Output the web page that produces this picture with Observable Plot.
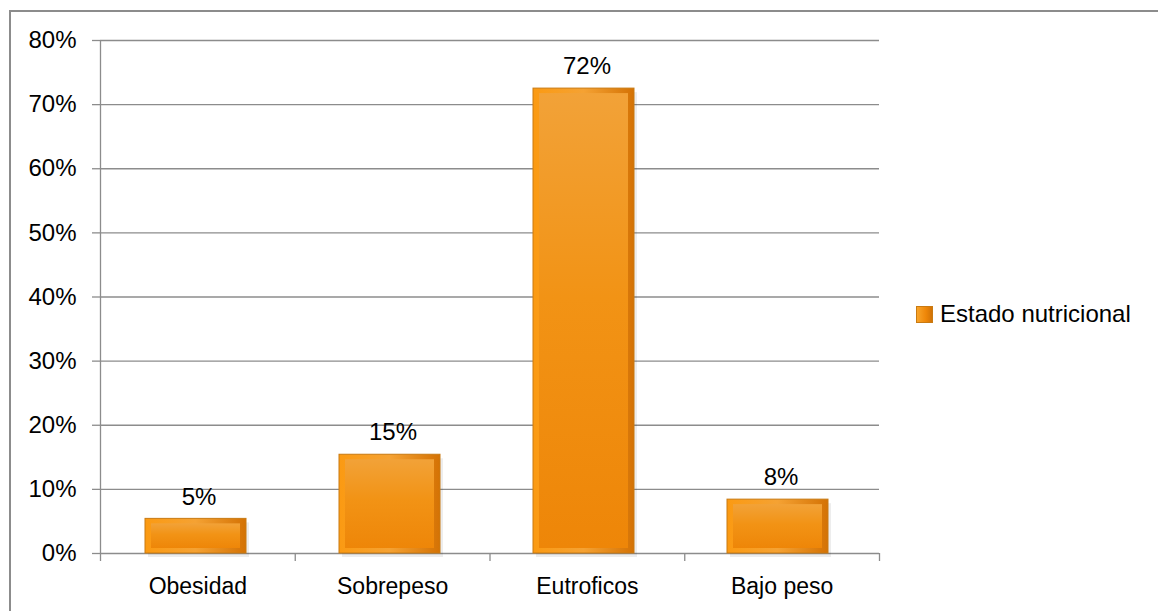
<!DOCTYPE html>
<html>
<head>
<meta charset="utf-8">
<script src="https://cdn.jsdelivr.net/npm/d3@7"></script>
<script src="https://cdn.jsdelivr.net/npm/@observablehq/plot@0.6"></script>
<style>
  html, body { margin: 0; padding: 0; background: #fff; }
  #wrap { position: relative; width: 1158px; height: 611px; overflow: hidden; }
  #frame { position: absolute; left: 9px; top: 10px; width: 1160px; height: 620px;
           border-left: 2px solid #8c8c8c; border-top: 2px solid #8c8c8c; box-sizing: border-box; }
  #chart { position: absolute; left: 0; top: 0; width: 1158px; height: 611px; }
  #chart svg { position: absolute; left: 0; top: 0; }
  #legend { position: absolute; left: 916px; top: 298px; font-family: "Liberation Sans", Arial, sans-serif;
            font-size: 24px; color: #000; display: flex; align-items: center; line-height: 32px; }
  #legend .sw { width: 17px; height: 17px; margin-right: 7px; box-sizing: border-box;
                background: linear-gradient(90deg, #f9a52a, #ee8608 60%, #d17306); border: 1px solid #c97a12; }
</style>
</head>
<body>
<div id="wrap">
  <div id="frame"></div>
  <div id="chart"></div>
  <div id="legend"><div class="sw"></div><span>Estado nutricional</span></div>
</div>
<script>
const categories = ["Obesidad", "Sobrepeso", "Eutroficos", "Bajo peso"];
const values = [0.054, 0.154, 0.725, 0.084];
const labels = ["5%", "15%", "72%", "8%"];
const yTicks = [0, 0.1, 0.2, 0.3, 0.4, 0.5, 0.6, 0.7, 0.8];
const seriesName = "Estado nutricional";

const data = categories.map((c, i) => ({category: c, value: values[i], label: labels[i], series: seriesName}));

const font = "'Liberation Sans', Arial, sans-serif";
const common = {
  width: 1158, height: 611,
  marginLeft: 100, marginRight: 279, marginTop: 40, marginBottom: 58,
  style: {fontFamily: font, fontSize: "24px", color: "#000", background: "transparent"}
};

// Axis layer: gridlines, y axis, baseline, category ticks and labels
const axisPlot = Plot.plot({
  ...common,
  x: {domain: [0, categories.length], axis: null},
  y: {domain: [0, 0.8], axis: null},
  marks: [
    Plot.ruleY(yTicks, {stroke: "#8c8c8c", strokeWidth: 1.3}),
    Plot.axisY({ticks: yTicks, tickFormat: d3.format(".0%"), tickSize: 8, tickPadding: 16,
                stroke: "#8c8c8c", strokeWidth: 1.3, strokeOpacity: 1, fontSize: 24, label: null}),
    Plot.ruleX(d3.range(categories.length + 1), {y1: 0, y2: 0, stroke: "#8c8c8c", strokeWidth: 1.3, insetBottom: -8}),
    Plot.ruleX([0], {y1: 0, y2: 0.8, stroke: "#8c8c8c", strokeWidth: 1.3}),
    Plot.text(categories, {x: (d, i) => i + 0.5, y: 0, text: d => d, dy: 33, fontSize: 23, fill: "#000"})
  ]
});

// Bar layer
const barPlot = Plot.plot({
  ...common,
  x: {domain: categories, paddingInner: 0.48, paddingOuter: 0.24, axis: null},
  y: {domain: [0, 0.8], axis: null},
  marks: [
    Plot.barY(data, {x: "category", y: "value", fill: "#000", fillOpacity: 0.07, dx: 0, dy: 4, inset: 0}),
    Plot.barY(data, {x: "category", y: "value", fill: "url(#edgeGrad)", stroke: "#c97a12", strokeWidth: 1, inset: 0, dx: -3}),
    Plot.barY(data, {x: "category", y: "value", fill: "url(#faceGrad)", insetLeft: 6, insetRight: 6, insetTop: 5, insetBottom: 5, dx: -3}),
    Plot.text(data, {x: "category", y: "value", text: "label", dy: -22, fontSize: 24, fill: "#000"})
  ]
});

const defs = d3.select(barPlot).insert("defs", ":first-child");
const eg = defs.append("linearGradient").attr("id", "edgeGrad").attr("x1", 0).attr("x2", 1).attr("y1", 0).attr("y2", 0);
eg.append("stop").attr("offset", "0%").attr("stop-color", "#fb9a12");
eg.append("stop").attr("offset", "50%").attr("stop-color", "#f5a233");
eg.append("stop").attr("offset", "100%").attr("stop-color", "#d47204");
const fg = defs.append("linearGradient").attr("id", "faceGrad").attr("x1", 0).attr("x2", 0).attr("y1", 0).attr("y2", 1);
fg.append("stop").attr("offset", "0%").attr("stop-color", "#f2a238");
fg.append("stop").attr("offset", "45%").attr("stop-color", "#f29315");
fg.append("stop").attr("offset", "100%").attr("stop-color", "#ee8608");

const host = document.getElementById("chart");
host.appendChild(axisPlot);
host.appendChild(barPlot);
</script>
</body>
</html>
